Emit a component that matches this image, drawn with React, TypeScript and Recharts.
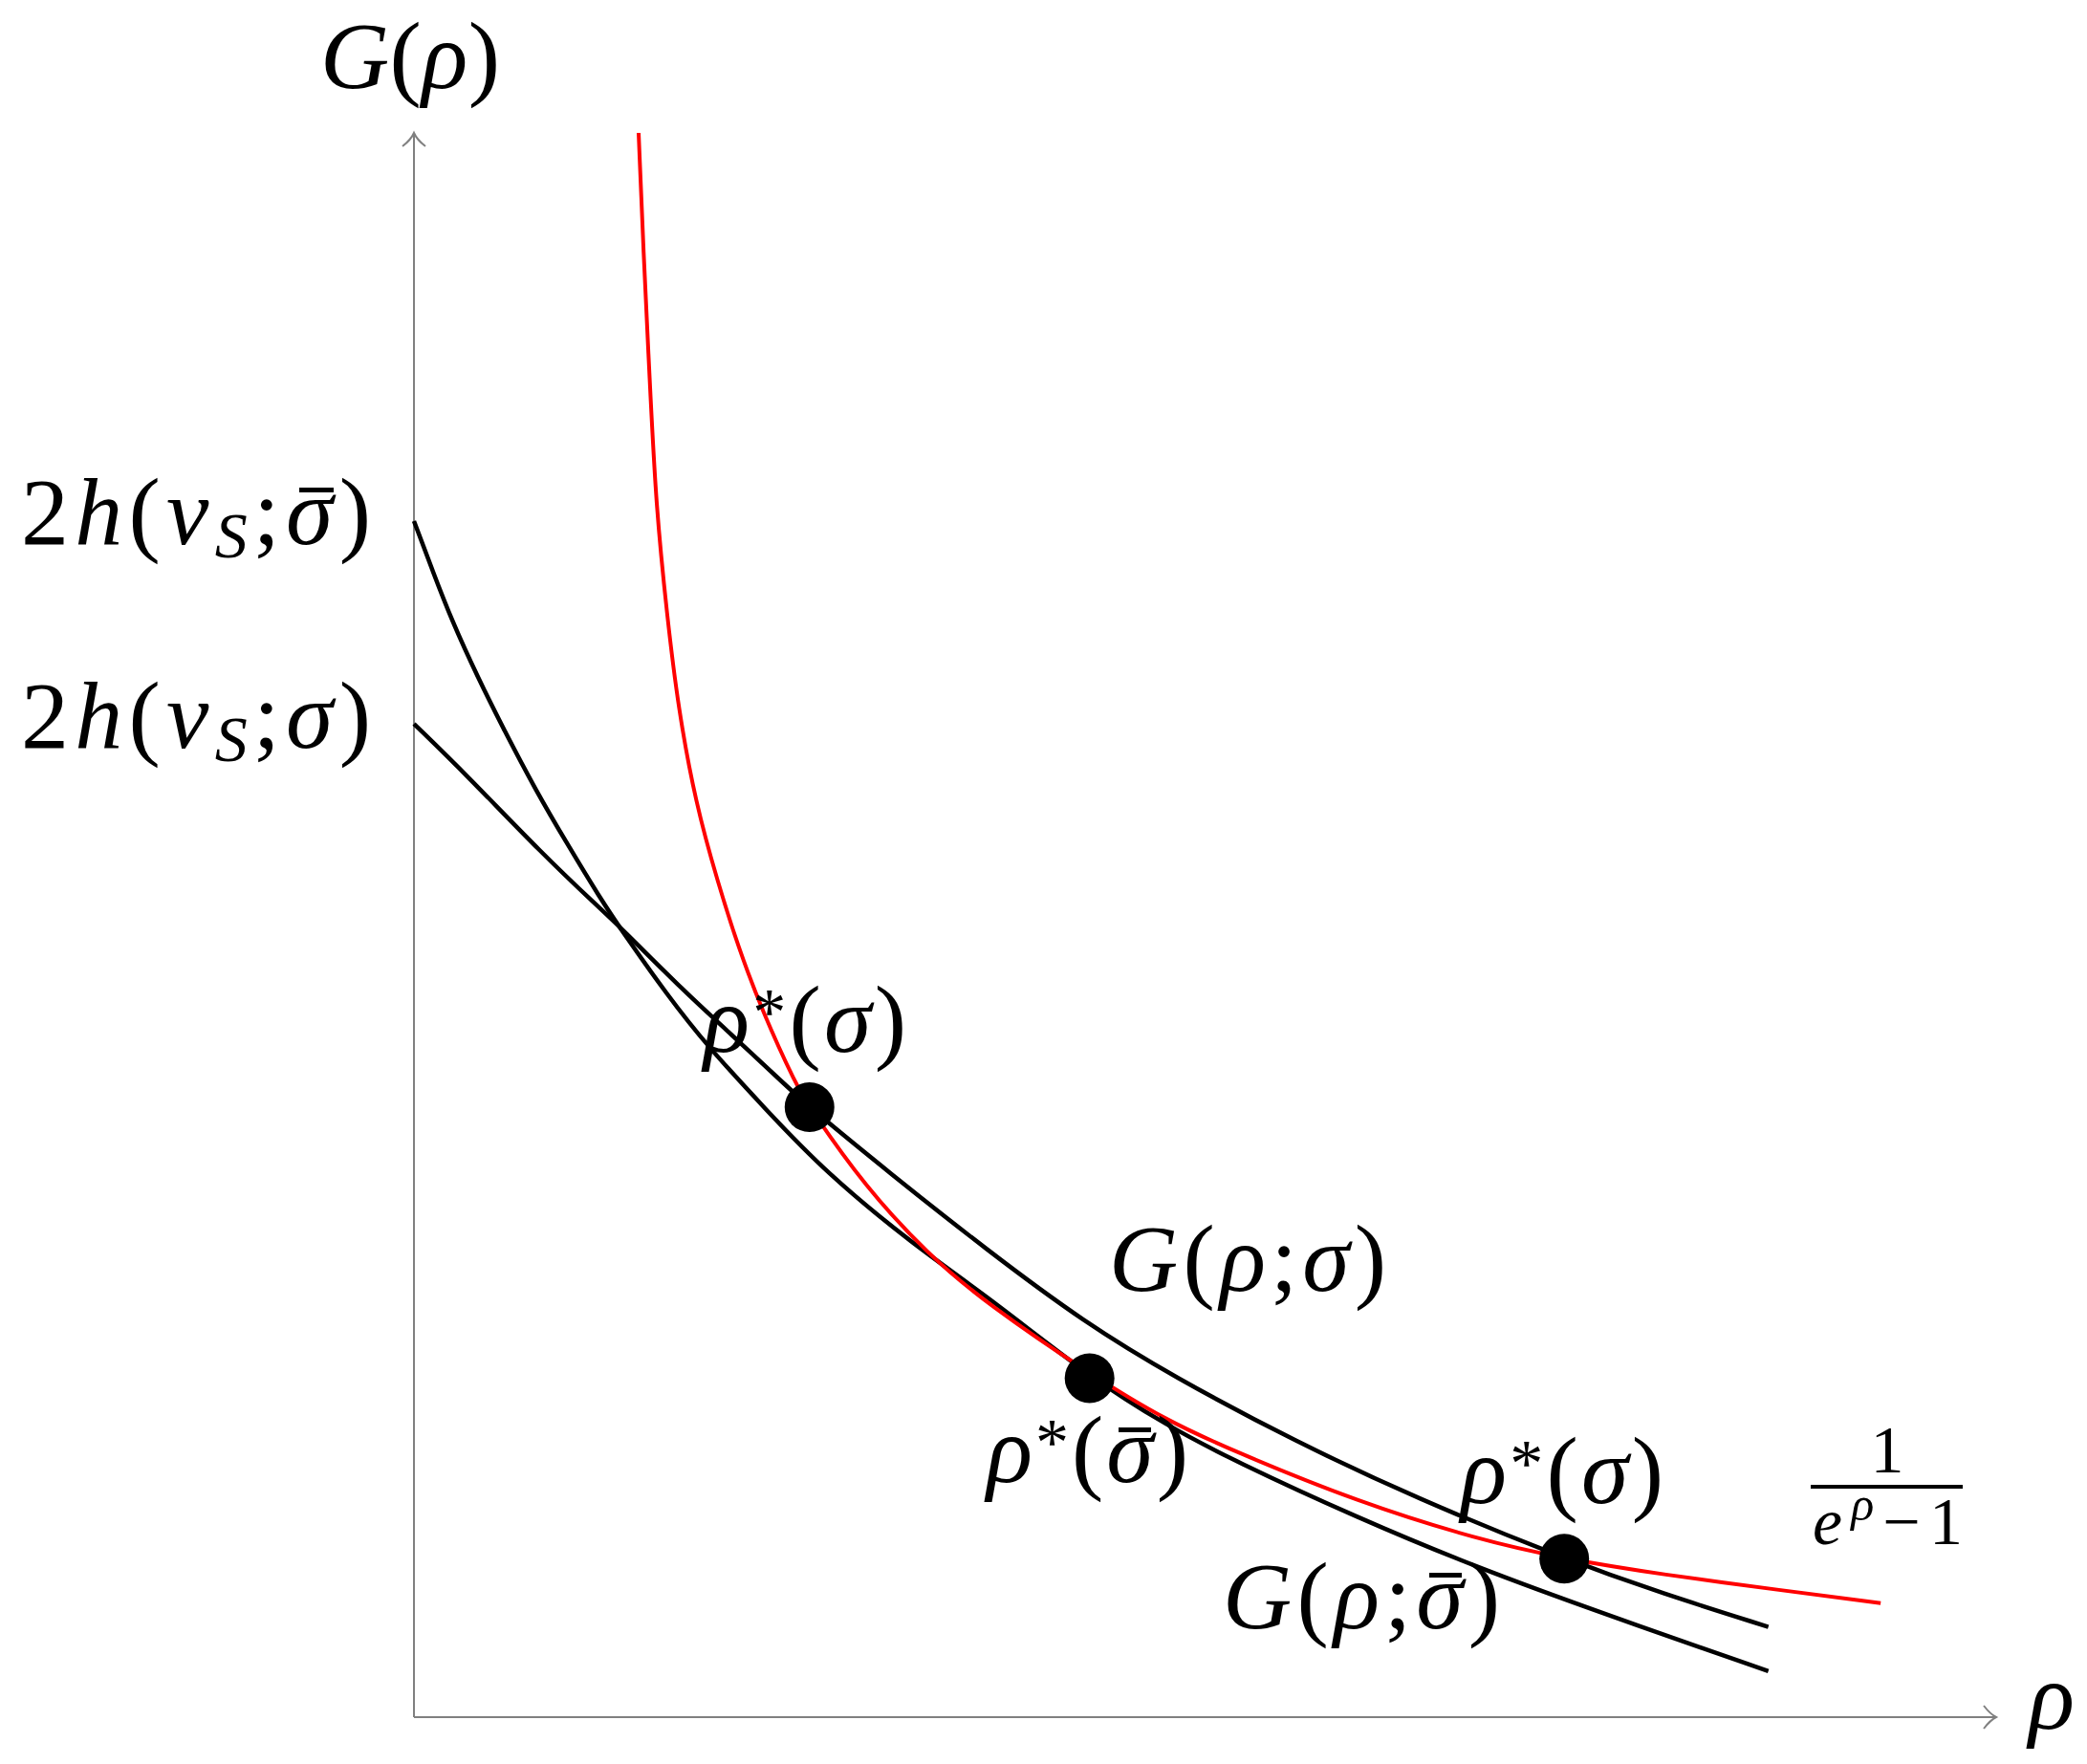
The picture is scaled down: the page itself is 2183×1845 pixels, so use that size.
import { ComposedChart, Line, XAxis, YAxis, ReferenceLine, ReferenceDot } from "recharts";

// values, axes run 0..10 in both directions
const redX = [1.42, 1.45, 1.49, 1.53, 1.6, 1.67, 1.78, 1.92, 2.05, 2.2, 2.42, 2.5, 2.85, 3.25, 3.62, 4.28, 4.76, 5.18, 5.96, 6.73, 7.27, 7.89, 8.65, 9.27];
const redY = [10, 9.26, 8.44, 7.64, 6.95, 6.37, 5.77, 5.27, 4.86, 4.46, 3.98, 3.85, 3.35, 2.92, 2.61, 2.16, 1.87, 1.68, 1.36, 1.12, 1.0, 0.9, 0.8, 0.72];

const sigmaBarX = [0, 0.12, 0.24, 0.4, 0.57, 0.77, 0.97, 1.17, 1.33, 1.6, 1.85, 2.22, 2.6, 3.16, 3.62, 4.28, 4.76, 5.18, 5.96, 6.73, 7.5, 8.56];
const sigmaBarY = [7.55, 7.23, 6.92, 6.57, 6.23, 5.85, 5.51, 5.18, 4.94, 4.56, 4.24, 3.84, 3.44, 2.98, 2.66, 2.14, 1.84, 1.62, 1.26, 0.94, 0.66, 0.29];

const sigmaX = [0, 0.33, 0.81, 1.17, 1.29, 1.73, 1.93, 2.38, 2.5, 3.0, 3.62, 4.24, 4.8, 5.57, 6.34, 7.27, 7.89, 8.56];
const sigmaY = [6.27, 5.95, 5.45, 5.11, 5.0, 4.56, 4.38, 3.96, 3.85, 3.44, 2.95, 2.49, 2.15, 1.74, 1.38, 1.0, 0.78, 0.57];

const dotX = [2.5, 4.27, 7.27];
const dotY = [3.85, 2.14, 1.0];

const zip = (xs: number[], ys: number[]) => xs.map((x, i) => ({ x, y: ys[i] }));

const W = 2183;
const H = 1845;
const FONT = "Liberation Serif";
const GREY = "#808080";

const I = ({ children, ...rest }: any) => (
  <tspan fontStyle="italic" {...rest}>
    {children}
  </tspan>
);

function Tex({ x, y, len, size = 100, children }: any) {
  return (
    <text x={x} y={y} fontSize={size} fontFamily={FONT} fill="#000" textLength={len} lengthAdjust="spacing">
      {children}
    </text>
  );
}

function RhoStar() {
  return (
    <>
      <I>ρ</I>
      <tspan fontSize={70} dy={-18}>*</tspan>
      <tspan dy={18}>(</tspan>
      <I>σ</I>
      <tspan>)</tspan>
    </>
  );
}

function Labels() {
  return (
    <svg width={W} height={H} style={{ position: "absolute", left: 0, top: 0 }}>
      {/* arrow heads */}
      <path d="M421,153 Q430,146 433,139 Q436,146 445,153" fill="none" stroke={GREY} strokeWidth={2} />
      <path d="M2075,1784 Q2082,1793 2088,1796 Q2082,1799 2075,1808" fill="none" stroke={GREY} strokeWidth={2} />

      <Tex x={335} y={92} len={188}>
        <I>G</I>(<I>ρ</I>)
      </Tex>
      <Tex x={22} y={569} len={366}>
        2<I>h</I>(<I>v</I>
        <I fontSize={68} dy={14}>S</I>
        <tspan dy={-14}>;</tspan>
        <I>σ</I>)
      </Tex>
      <rect x={313} y={510} width={36} height={5} fill="#000" />
      <Tex x={22} y={782} len={366}>
        2<I>h</I>(<I>v</I>
        <I fontSize={68} dy={14}>S</I>
        <tspan dy={-14}>;</tspan>
        <I>σ</I>)
      </Tex>
      <Tex x={736} y={1100} len={212}>
        <RhoStar />
      </Tex>
      <Tex x={1160} y={1350} len={290}>
        <I>G</I>(<I>ρ</I>;<I>σ</I>)
      </Tex>
      <Tex x={1032} y={1550} len={211}>
        <RhoStar />
      </Tex>
      <rect x={1170} y={1493} width={34} height={5} fill="#000" />
      <Tex x={1528} y={1572} len={212}>
        <RhoStar />
      </Tex>
      <Tex x={1279} y={1703} len={290}>
        <I>G</I>(<I>ρ</I>;<I>σ</I>)
      </Tex>
      <rect x={1495} y={1645} width={34} height={5} fill="#000" />

      {/* 1 / (e^rho - 1) */}
      <text x={1974} y={1540} fontSize={70} fontFamily={FONT} textAnchor="middle">
        1
      </text>
      <rect x={1894} y={1553} width={159} height={4} fill="#000" />
      <Tex x={1896} y={1615} len={157} size={70}>
        <I>e</I>
        <I fontSize={50} dy={-25}>ρ</I>
        <tspan dy={25}>−1</tspan>
      </Tex>

      <Tex x={2122} y={1808}>
        <I>ρ</I>
      </Tex>
    </svg>
  );
}

export default function App() {
  return (
    <div style={{ position: "absolute", left: 0, top: 0, width: W, height: H, background: "#fff" }}>
      <ComposedChart width={W} height={H} margin={{ top: 139, right: 95, bottom: 49, left: 433 }}>
        <XAxis type="number" dataKey="x" domain={[0, 10]} hide />
        <YAxis type="number" domain={[0, 10]} hide />
        <ReferenceLine x={0} stroke={GREY} strokeWidth={2} />
        <ReferenceLine y={0} stroke={GREY} strokeWidth={2} />
        <Line
          data={zip(sigmaBarX, sigmaBarY)}
          dataKey="y"
          type="basis"
          stroke="#000"
          strokeWidth={4.5}
          dot={false}
          activeDot={false}
          isAnimationActive={false}
        />
        <Line
          data={zip(sigmaX, sigmaY)}
          dataKey="y"
          type="basis"
          stroke="#000"
          strokeWidth={4.5}
          dot={false}
          activeDot={false}
          isAnimationActive={false}
        />
        <Line
          data={zip(redX, redY)}
          dataKey="y"
          type="basis"
          stroke="#ff0000"
          strokeWidth={4}
          dot={false}
          activeDot={false}
          isAnimationActive={false}
        />
        {dotX.map((x, i) => (
          <ReferenceDot key={i} x={x} y={dotY[i]} r={26} fill="#000" stroke="none" />
        ))}
      </ComposedChart>
      <Labels />
    </div>
  );
}
